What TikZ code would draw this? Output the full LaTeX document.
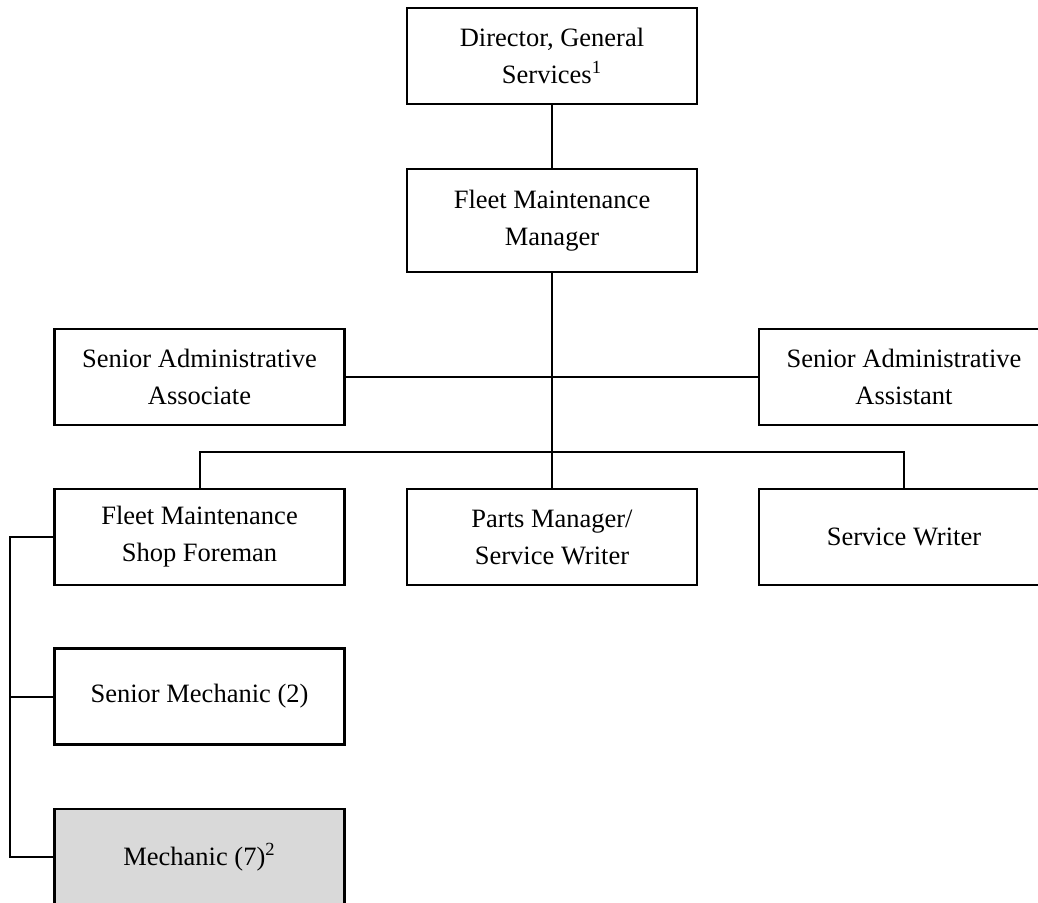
\documentclass[tikz,border=0pt]{standalone}
\usepackage{fontspec}
\setmainfont{Liberation Serif}
\begin{document}
\begin{tikzpicture}[x=0.5pt, y=-0.5pt,
    post/.style={draw, line width=1.1pt, fill=white, minimum width=145pt, minimum height=48pt,
      inner sep=0pt, align=center, font=\fontsize{13.25}{18.5}\selectfont},
    link/.style={line width=1pt}]
	\clip (0, 0) rectangle (1038, 902);
	\fill[white] (0, 0) rectangle (1038, 902);
	% top of the chart
	\node[post] (director) at (552, 56) {Director, General\\Services\textsuperscript{1}};
	\node[post, minimum height=51.5pt] (manager) at (552, 220.5) {Fleet Maintenance\\Manager};
	% staff
	\node[post] (associate) at (199.5, 377) {Senior Administrative\\Associate};
	\node[post] (assistant) at (904, 377) {Senior Administrative\\Assistant};
	% second row
	\node[post] (foreman) at (199.5, 537) {Fleet Maintenance\\Shop Foreman};
	\node[post] (parts) at (552, 537) {Parts Manager/\\Service Writer};
	\node[post] (writer) at (904, 537) {Service Writer};
	% shop floor
	\node[post] (seniormech) at (199.5, 696.5) {Senior Mechanic (2)};
	\node[post, fill={rgb,255:red,217;green,217;blue,217}] (mechanic) at (199.5, 857) {Mechanic (7)\textsuperscript{2}};
	\coordinate (bus) at (552, 452);
	\coordinate (rail) at (10, 0);
	\draw[link] (director.south) -- (manager.north);
	\draw[link, line width=1.4pt] (manager.south) -- (parts.north);
	\draw[link] (associate.east) -- (assistant.west);
	\draw[link] (foreman.north) -- (foreman.north |- bus) -- (writer.north |- bus) -- (writer.north);
	\draw[link] (foreman.west) -- (foreman.west -| rail) -- (mechanic.west -| rail) -- (mechanic.west);
	\draw[link] (seniormech.west) -- (seniormech.west -| rail);
\end{tikzpicture}
\end{document}
